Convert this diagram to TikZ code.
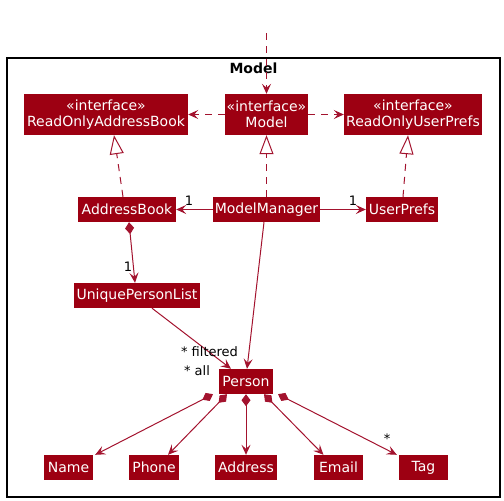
\documentclass[tikz,border=0pt]{standalone}
\usepackage{fontspec}
\setmainfont{DejaVu Sans}
\usetikzlibrary{arrows.meta}
\definecolor{mfill}{HTML}{9D0012}
\definecolor{mline}{HTML}{A3132E}
\tikzset{
  cls/.style={fill=mfill, text=white, inner sep=0pt, minimum height=25pt, align=center,
    font=\fontsize{14}{16}\selectfont},
  iface/.style={cls, minimum height=41pt},
  conn/.style={draw=mline, line width=1pt},
  dep/.style={conn, dash pattern=on 7pt off 6pt, -{Stealth[length=10pt,width=9pt,inset=4pt]}},
  assoc/.style={conn, -{Stealth[length=10pt,width=9pt,inset=4pt]}},
  realize/.style={conn, dash pattern=on 7pt off 6pt, -{Triangle[open,fill=white,length=19pt,width=14pt]}},
  comp/.style={conn, {Diamond[length=12pt,width=9pt]}-{Stealth[length=10pt,width=9pt,inset=4pt]}},
  lbl/.style={text=black, inner sep=0pt, font=\fontsize{13}{15}\selectfont},
}
\begin{document}
\begin{tikzpicture}[x=1pt,y=-1pt]
\useasboundingbox (0,0) rectangle (504,501);
% package frame
\node[draw=black, line width=1.3pt, minimum width=493pt, minimum height=439pt, inner sep=0pt] (pkg) at (253.5,277.5) {};
\node[text=black, inner sep=0pt, font=\bfseries\fontsize{14}{16}\selectfont] (pkgname) at (253.5,68) {Model};

% interfaces
\node[iface, minimum width=164pt] (roab) at (106,114.5) {«interface»\\ReadOnlyAddressBook};
\node[iface, minimum width=83pt] (model) at (266.5,114.5) {«interface»\\Model};
\node[iface, minimum width=138pt] (roup) at (413,114.5) {«interface»\\ReadOnlyUserPrefs};

% classes
\node[cls, minimum width=98pt] (ab) at (127,209.5) {AddressBook};
\node[cls, minimum width=107pt] (mm) at (266.5,209.5) {ModelManager};
\node[cls, minimum width=72pt] (up) at (402,209.5) {UserPrefs};
\node[cls, minimum width=126pt] (upl) at (137,295.5) {UniquePersonList};
\node[cls, minimum width=54pt] (person) at (246,381.5) {Person};
\node[cls, minimum width=49pt] (name) at (68.5,467.5) {Name};
\node[cls, minimum width=50pt] (phone) at (154,467.5) {Phone};
\node[cls, minimum width=62pt] (address) at (246,467.5) {Address};
\node[cls, minimum width=49pt] (email) at (338.5,467.5) {Email};
\node[cls, minimum width=49pt] (tag) at (423.5,467.5) {Tag};

\coordinate (ext) at (266.5,33);

% dependencies
\draw[dep] (ext) -- (model.north);
\draw[dep] (model.west) -- (roab.east);
\draw[dep] (model.east) -- (roup.west);

% realizations
\draw[realize] ([xshift=-4pt]ab.north) -- ([xshift=8pt]roab.south);
\draw[realize] (mm.north) -- (model.south);
\draw[realize] ([xshift=1pt]up.north) -- ([xshift=-5pt]roup.south);

% associations
\draw[assoc] (mm.west) -- (ab.east);
\draw[assoc] (mm.east) -- (up.west);
\draw[assoc] ([xshift=-2.5pt]mm.south) -- ([xshift=1pt]person.north);
\draw[assoc] ([xshift=15pt]upl.south) -- ([xshift=-15pt]person.north);

% compositions
\draw[comp] ([xshift=2pt]ab.south) -- ([xshift=-2pt]upl.north);
\draw[comp] ([xshift=-33pt]person.south) -- ([xshift=2pt]name.north east);
\draw[comp] ([xshift=-19pt]person.south) -- ([xshift=14pt]phone.north);
\draw[comp] (person.south) -- (address.north);
\draw[comp] ([xshift=18pt]person.south) -- ([xshift=-15pt]email.north);
\draw[comp] ([xshift=32pt]person.south) -- ([xshift=-2pt]tag.north west);

% multiplicity labels
\node[lbl] (l1) at (189,201) {1};
\node[lbl] (l2) at (353,201) {1};
\node[lbl] (l3) at (128,267) {1};
\node[lbl] (l4) at (209.5,352) {* filtered};
\node[lbl] (l5) at (197,371) {* all};
\node[lbl] (l6) at (387,439) {*};
\end{tikzpicture}
\end{document}
